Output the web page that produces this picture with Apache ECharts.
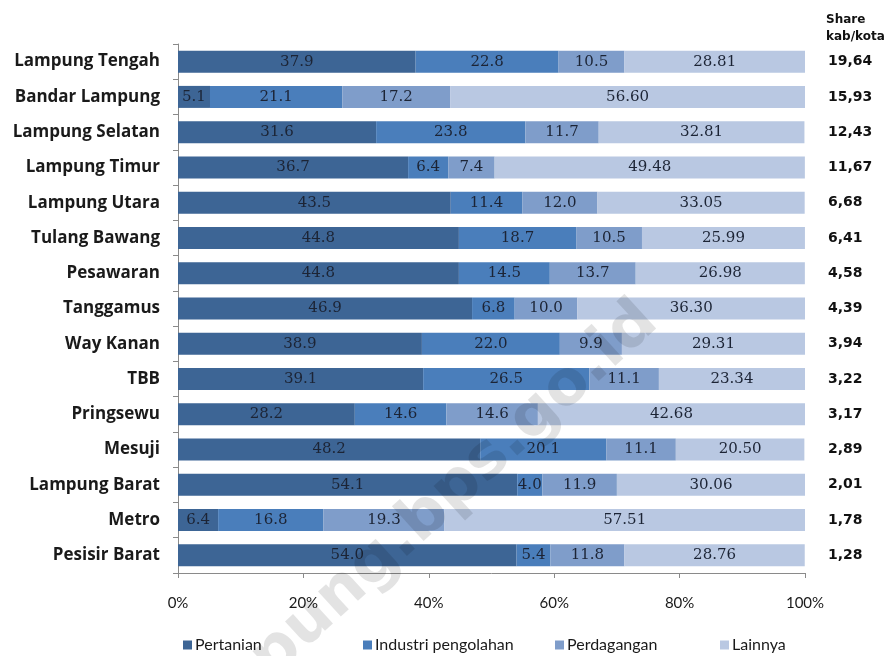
<!DOCTYPE html>
<html>
<head>
<meta charset="utf-8">
<script src="https://cdn.jsdelivr.net/npm/echarts@6/dist/echarts.min.js"></script>
<style>
html,body{margin:0;padding:0;background:#fff;}
#chart{width:894px;height:656px;}
</style>
</head>
<body>
<div id="chart"></div>
<script>
var categories = ["Lampung Tengah","Bandar Lampung","Lampung Selatan","Lampung Timur","Lampung Utara","Tulang Bawang","Pesawaran","Tanggamus","Way Kanan","TBB","Pringsewu","Mesuji","Lampung Barat","Metro","Pesisir Barat"];
var pertanian = [37.9,5.1,31.6,36.7,43.5,44.8,44.8,46.9,38.9,39.1,28.2,48.2,54.1,6.4,54.0];
var industri  = [22.8,21.1,23.8,6.4,11.4,18.7,14.5,6.8,22.0,26.5,14.6,20.1,4.0,16.8,5.4];
var perdagangan = [10.5,17.2,11.7,7.4,12.0,10.5,13.7,10.0,9.9,11.1,14.6,11.1,11.9,19.3,11.8];
var lainnya = [28.81,56.60,32.81,49.48,33.05,25.99,26.98,36.30,29.31,23.34,42.68,20.50,30.06,57.51,28.76];
var shareKabKota = ["19,64","15,93","12,43","11,67","6,68","6,41","4,58","4,39","3,94","3,22","3,17","2,89","2,01","1,78","1,28"];
var xTicks = [0,20,40,60,80,100];
var seriesNames = ["Pertanian","Industri pengolahan","Perdagangan","Lainnya"];
var seriesColors = ["#3d6595","#4a7ebb","#7f9dca","#b9c8e2"];
var seriesData = [pertanian, industri, perdagangan, lainnya];
var seriesDecimals = [1,1,1,2];

var chart = echarts.init(document.getElementById('chart'));
var labelFont = {fontFamily:"DejaVu Serif", fontSize:15, color:"#1c2435"};

var series = seriesNames.map(function(name,i){
  return {
    name:name, type:'bar', stack:'total', barWidth:22,
    itemStyle:{color:seriesColors[i]},
    label:{show:true, position:'inside', fontFamily:labelFont.fontFamily, fontSize:labelFont.fontSize, color:labelFont.color,
      formatter:function(p){return Number(p.value).toFixed(seriesDecimals[i]);}},
    data:seriesData[i]
  };
});

var legendLefts = [178,358,550,715];
var legends = seriesNames.map(function(n,i){
  return {data:[n], left:legendLefts[i], top:632, itemWidth:9, itemHeight:9, icon:'rect',
    textStyle:{fontFamily:"Lato", fontSize:16, color:"#1a1a1a", padding:[0,0,0,-2]}};
});

chart.setOption({
  animation:false,
  backgroundColor:'#fff',
  legend:legends,
  grid:{left:178, right:89, top:44, bottom:83},
  xAxis:{type:'value', min:0, max:100, interval:20,
    axisLine:{show:true, lineStyle:{color:'#8a8a8a'}},
    axisTick:{show:true, length:5, lineStyle:{color:'#8a8a8a'}},
    splitLine:{show:false},
    axisLabel:{margin:23, fontFamily:"Lato", fontSize:15, color:"#1a1a1a",
      formatter:function(v){return xTicks.indexOf(v)>=0 ? v+'%' : '';}}
  },
  yAxis:[{
    type:'category', inverse:true, data:categories,
    axisLine:{show:true, lineStyle:{color:'#8a8a8a'}},
    axisTick:{show:true, length:5, lineStyle:{color:'#8a8a8a'}},
    axisLabel:{margin:18, fontFamily:"Open Sans", fontWeight:'bold', fontSize:17, color:"#1a1a1a"}
  },{
    type:'category', inverse:true, position:'right', data:categories,
    axisLine:{show:false}, axisTick:{show:false},
    axisLabel:{margin:23, align:'left', fontFamily:"DejaVu Sans", fontWeight:'bold', fontSize:14, color:"#111",
      formatter:function(v,idx){return shareKabKota[idx];}}
  }],
  graphic:[
    {type:'text', left:826, top:11, style:{text:'Share\nkab/kota', fontFamily:"DejaVu Sans", fontWeight:'bold', fontSize:12, lineHeight:17, fill:'#111'}},
    {type:'text', x:670, y:336, rotation:0.74, z:100, silent:true,
      style:{text:'lampung.bps.go.id', textAlign:'right', textVerticalAlign:'bottom', fontFamily:"DejaVu Sans", fontWeight:'bold', fontSize:62, fill:'rgba(0,0,0,0.11)'}}
  ],
  series:series
});
</script>
</body>
</html>
